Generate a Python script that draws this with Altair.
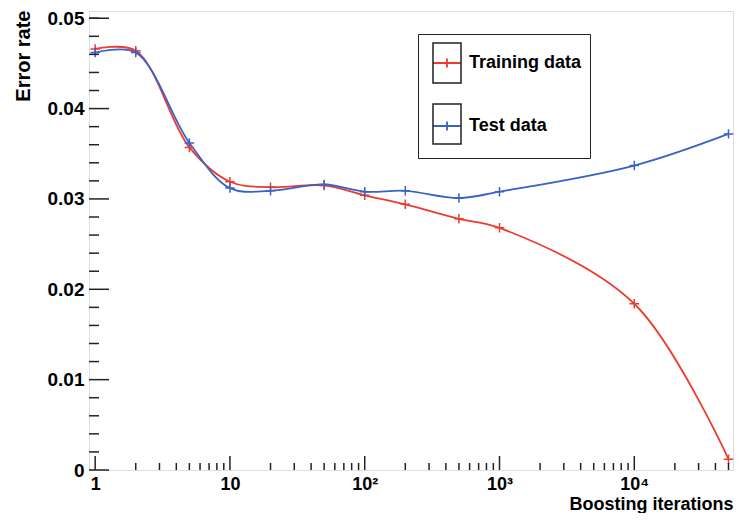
import altair as alt
import pandas as pd

# ---------------- data ----------------
iterations = [1, 2, 5, 10, 20, 50, 100, 200, 500, 1000, 10000, 50000]
training_error = [0.0466, 0.0464, 0.0357, 0.0319, 0.0313, 0.0315, 0.0304, 0.0294, 0.0278, 0.0268, 0.0184, 0.0012]
test_error = [0.0462, 0.0462, 0.0362, 0.0312, 0.0309, 0.0316, 0.0308, 0.0309, 0.0301, 0.0308, 0.0337, 0.0372]
series_names = ["Training data", "Test data"]
series_colors = ["#ee3b30", "#3a62c6"]

x_major_ticks = [1, 10, 100, 1000, 10000]
x_major_labels = ["1", "10", "10²", "10³", "10⁴"]
x_minor_ticks = [2, 3, 4, 5, 6, 7, 8, 9,
                 20, 30, 40, 50, 60, 70, 80, 90,
                 200, 300, 400, 500, 600, 700, 800, 900,
                 2000, 3000, 4000, 5000, 6000, 7000, 8000, 9000,
                 20000, 30000, 40000, 50000]
y_major_ticks = [0.0, 0.01, 0.02, 0.03, 0.04, 0.05]
y_major_labels = ["0", "0.01", "0.02", "0.03", "0.04", "0.05"]
y_minor_ticks = [0.002, 0.004, 0.006, 0.008, 0.012, 0.014, 0.016, 0.018,
                 0.022, 0.024, 0.026, 0.028, 0.032, 0.034, 0.036, 0.038,
                 0.042, 0.044, 0.046, 0.048, 0.05]

# ---------------- tables ----------------
df = pd.concat([
    pd.DataFrame({"iter": iterations, "err": training_error, "series": series_names[0]}),
    pd.DataFrame({"iter": iterations, "err": test_error, "series": series_names[1]}),
], ignore_index=True)
box_names = [n + " (frame)" for n in series_names]
df["box"] = df["series"] + " (frame)"

W, H = 644, 459
FONT = "Liberation Sans"
INK = "#222222"

xscale = alt.Scale(type="log", domain=[0.9, 54000], nice=False)
yscale = alt.Scale(domain=[0, 0.0508], nice=False, zero=False)
cscale = alt.Scale(domain=series_names, range=series_colors)

x_label_expr = " : ".join(
    [f"datum.value == {v} ? '{l}'" for v, l in zip(x_major_ticks, x_major_labels)]
) + " : ''"
y_label_expr = " : ".join(
    [f"abs(datum.value - {v}) < 1e-9 ? '{l}'" for v, l in zip(y_major_ticks, y_major_labels)]
) + " : ''"

box_path = "M-0.7,-1H0.7V1H-0.7Z"
line_path = "M0,-1L0,-1M0,1L0,1M-0.7,0H0.7M0,-0.22V0.22"
cross_path = "M-1,0H1M0,-1V1"

LEG_X, LEG_Y = 329, 23

xaxis = alt.Axis(values=x_major_ticks, labelExpr=x_label_expr, ticks=False, domain=False,
                 grid=False, labelFlush=False, labelFont=FONT, labelFontSize=18,
                 labelFontWeight="bold", labelColor="black", labelPadding=5,
                 title="Boosting iterations", titleFont=FONT, titleFontSize=18,
                 titleFontWeight="bold", titleColor="black", titleAnchor="end",
                 titleAlign="right", titleBaseline="alphabetic", titleX=W, titleY=39)
yaxis = alt.Axis(values=y_major_ticks, labelExpr=y_label_expr, ticks=False, domain=False,
                 grid=False, labelFlush=False, labelFont=FONT, labelFontSize=19,
                 labelFontWeight="bold", labelColor="black", labelPadding=5,
                 title="Error rate", titleFont=FONT, titleFontSize=20,
                 titleFontWeight="bold", titleColor="black", titleAngle=-90,
                 titleAlign="right", titleBaseline="alphabetic", titleX=-60, titleY=-1)
color_legend = alt.Legend(orient="none", legendX=LEG_X, legendY=LEG_Y, title=None,
                          symbolType=line_path, symbolSize=1600, symbolStrokeWidth=1.8,
                          labelFont=FONT, labelFontSize=18, labelFontWeight="bold",
                          labelColor="black", labelOffset=1, rowPadding=15,
                          padding=8, strokeColor=INK, labelLimit=300)
box_legend = alt.Legend(orient="none", legendX=LEG_X, legendY=LEG_Y, title=None,
                        symbolSize=1600, symbolStrokeColor=INK, symbolFillColor="transparent",
                        symbolStrokeWidth=1.5, symbolOpacity=1,
                        labelExpr="''", labelFontSize=18, labelOffset=1,
                        rowPadding=15, padding=8)

# ---------------- data layers ----------------
base = alt.Chart(df)

lines = base.mark_line(interpolate="catmull-rom", strokeWidth=1.8).encode(
    x=alt.X("iter:Q", scale=xscale, axis=xaxis),
    y=alt.Y("err:Q", scale=yscale, axis=yaxis),
    color=alt.Color("series:N", scale=cscale, legend=color_legend),
    detail="series:N",
)

points = base.mark_point(shape=cross_path, filled=False, size=90, strokeWidth=1.5, opacity=1).encode(
    x=alt.X("iter:Q", scale=xscale, axis=xaxis),
    y=alt.Y("err:Q", scale=yscale, axis=yaxis),
    color=alt.Color("series:N", scale=cscale, legend=color_legend),
)

boxes = base.transform_filter("false").mark_point(filled=False, color=INK, strokeWidth=1.5, opacity=1).encode(
    x=alt.X("iter:Q", scale=xscale, axis=xaxis),
    y=alt.Y("err:Q", scale=yscale, axis=yaxis),
    shape=alt.Shape("box:N", scale=alt.Scale(domain=box_names, range=[box_path, box_path]),
                    legend=box_legend),
)

# ---------------- tick layers (inward ticks) ----------------
xmaj = alt.Chart(pd.DataFrame({"iter": x_major_ticks})).mark_rule(color=INK, strokeWidth=1.5).encode(
    x=alt.X("iter:Q", scale=xscale, axis=xaxis), y=alt.value(H), y2=alt.value(H - 14))
xmin = alt.Chart(pd.DataFrame({"iter": x_minor_ticks})).mark_rule(color=INK, strokeWidth=1.5).encode(
    x=alt.X("iter:Q", scale=xscale, axis=xaxis), y=alt.value(H), y2=alt.value(H - 7))
ymaj = alt.Chart(pd.DataFrame({"err": y_major_ticks})).mark_rule(color=INK, strokeWidth=1.5).encode(
    y=alt.Y("err:Q", scale=yscale, axis=yaxis), x=alt.value(0), x2=alt.value(20))
ymin = alt.Chart(pd.DataFrame({"err": y_minor_ticks})).mark_rule(color=INK, strokeWidth=1.5).encode(
    y=alt.Y("err:Q", scale=yscale, axis=yaxis), x=alt.value(0), x2=alt.value(10))

chart = alt.layer(lines, points, boxes, ymin, ymaj, xmin, xmaj).properties(
    width=W, height=H,
    autosize=alt.AutoSizeParams(type="none"),
    padding={"left": 81, "top": 3, "right": 1, "bottom": 43},
).configure_view(stroke=INK, strokeWidth=2).configure(background="white")

chart.save("out.html", embed_options={"renderer": "svg", "actions": False})
